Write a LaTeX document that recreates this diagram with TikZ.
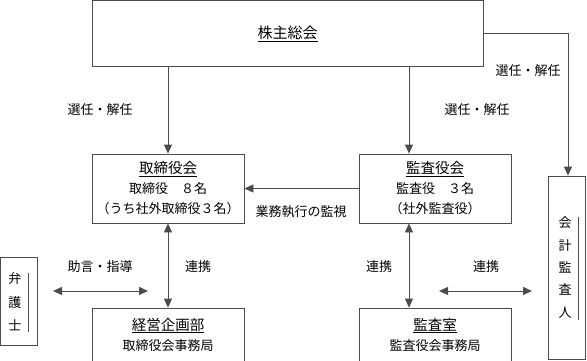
\documentclass[tikz,border=0pt]{standalone}
\usepackage{fontspec}
\setmainfont{Noto Sans CJK JP}
\usetikzlibrary{arrows.meta}
\begin{document}
\begin{tikzpicture}[x=1pt,y=-1pt,
  box/.style={draw=black!70, line width=0.8pt, inner sep=0pt, align=center, font=\fontsize{13}{20}\selectfont},
  conn/.style={draw=black!70, line width=0.8pt},
  arr/.style={conn,-{Triangle[length=9pt,width=8pt]}},
  darr/.style={conn,{Triangle[length=9pt,width=8pt]}-{Triangle[length=9pt,width=8pt]}},
  lbl/.style={font=\fontsize{13}{15}\selectfont, inner sep=0pt},
  vtxt/.style={align=center, inner sep=0pt}
]
\useasboundingbox (0,0) rectangle (587,361);
% boxes
\node[box, minimum width=391pt, minimum height=66pt] (gm) at (287.5,33.5) {\fontsize{15}{20}\selectfont\underline{株主総会}};
\node[box, minimum width=152pt, minimum height=69pt] (bd) at (168,188.5) {{\fontsize{14.5}{20}\selectfont\underline{取締役会}}\\取締役　８名\\（うち社外取締役３名）};
\node[box, minimum width=152pt, minimum height=69pt] (ac) at (435,188.5) {{\fontsize{14.5}{20}\selectfont\underline{監査役会}}\\監査役　３名\\（社外監査役）};
\node[box, minimum width=152pt, minimum height=53pt] (pl) at (168,334.5) {{\fontsize{14.5}{20}\selectfont\underline{経営企画部}}\\取締役会事務局};
\node[box, minimum width=152pt, minimum height=53pt] (ar) at (435,334.5) {{\fontsize{14.5}{20}\selectfont\underline{監査室}}\\監査役会事務局};
\node[box, minimum width=37pt, minimum height=88pt] (lw) at (18.5,301) {};
\node[box, minimum width=37pt, minimum height=183pt] (ca) at (566.5,267.5) {};
% vertical texts
\node[vtxt, font=\fontsize{13}{23.5}\selectfont] (lwt) at (15,302) {弁\\護\\士};
\node[vtxt, font=\fontsize{13}{22.3}\selectfont] (cat) at (565,267.5) {会\\計\\監\\査\\人};
\coordinate (lwa) at (28,273);
\coordinate (lwb) at (28,332);
\coordinate (caa) at (578,217);
\coordinate (cab) at (578,320);
\draw[conn] (lwa) -- (lwb);
\draw[conn] (caa) -- (cab);
% connectors
\draw[arr] (gm.south -| bd.north) -- (bd.north);
\draw[arr] (gm.south -| 409,0) -- ([xshift=-26pt]ac.north);
\draw[arr] (gm.east) -| ([xshift=1.5pt]ca.north);
\draw[arr] (ac.west) -- (bd.east);
\draw[darr] (bd.south) -- (pl.north);
\draw[darr] ([xshift=-26pt]ac.south) -- ([xshift=-26pt]ar.north);
\coordinate (l1) at (53,291);
\coordinate (l2) at (148,291);
\coordinate (r1) at (439,291);
\coordinate (r2) at (532,291);
\draw[darr] (l1) -- (l2);
\draw[darr] (r1) -- (r2);
% labels
\node[lbl] (s1) at (100,110) {選任・解任};
\node[lbl] (s2) at (477,110) {選任・解任};
\node[lbl] (s3) at (528,71) {選任・解任};
\node[lbl] (mon) at (301,212) {業務執行の監視};
\node[lbl] (adv) at (100,267) {助言・指導};
\node[lbl] (c1) at (198,267) {連携};
\node[lbl] (c2) at (379,267) {連携};
\node[lbl] (c3) at (486,267) {連携};
\end{tikzpicture}
\end{document}
